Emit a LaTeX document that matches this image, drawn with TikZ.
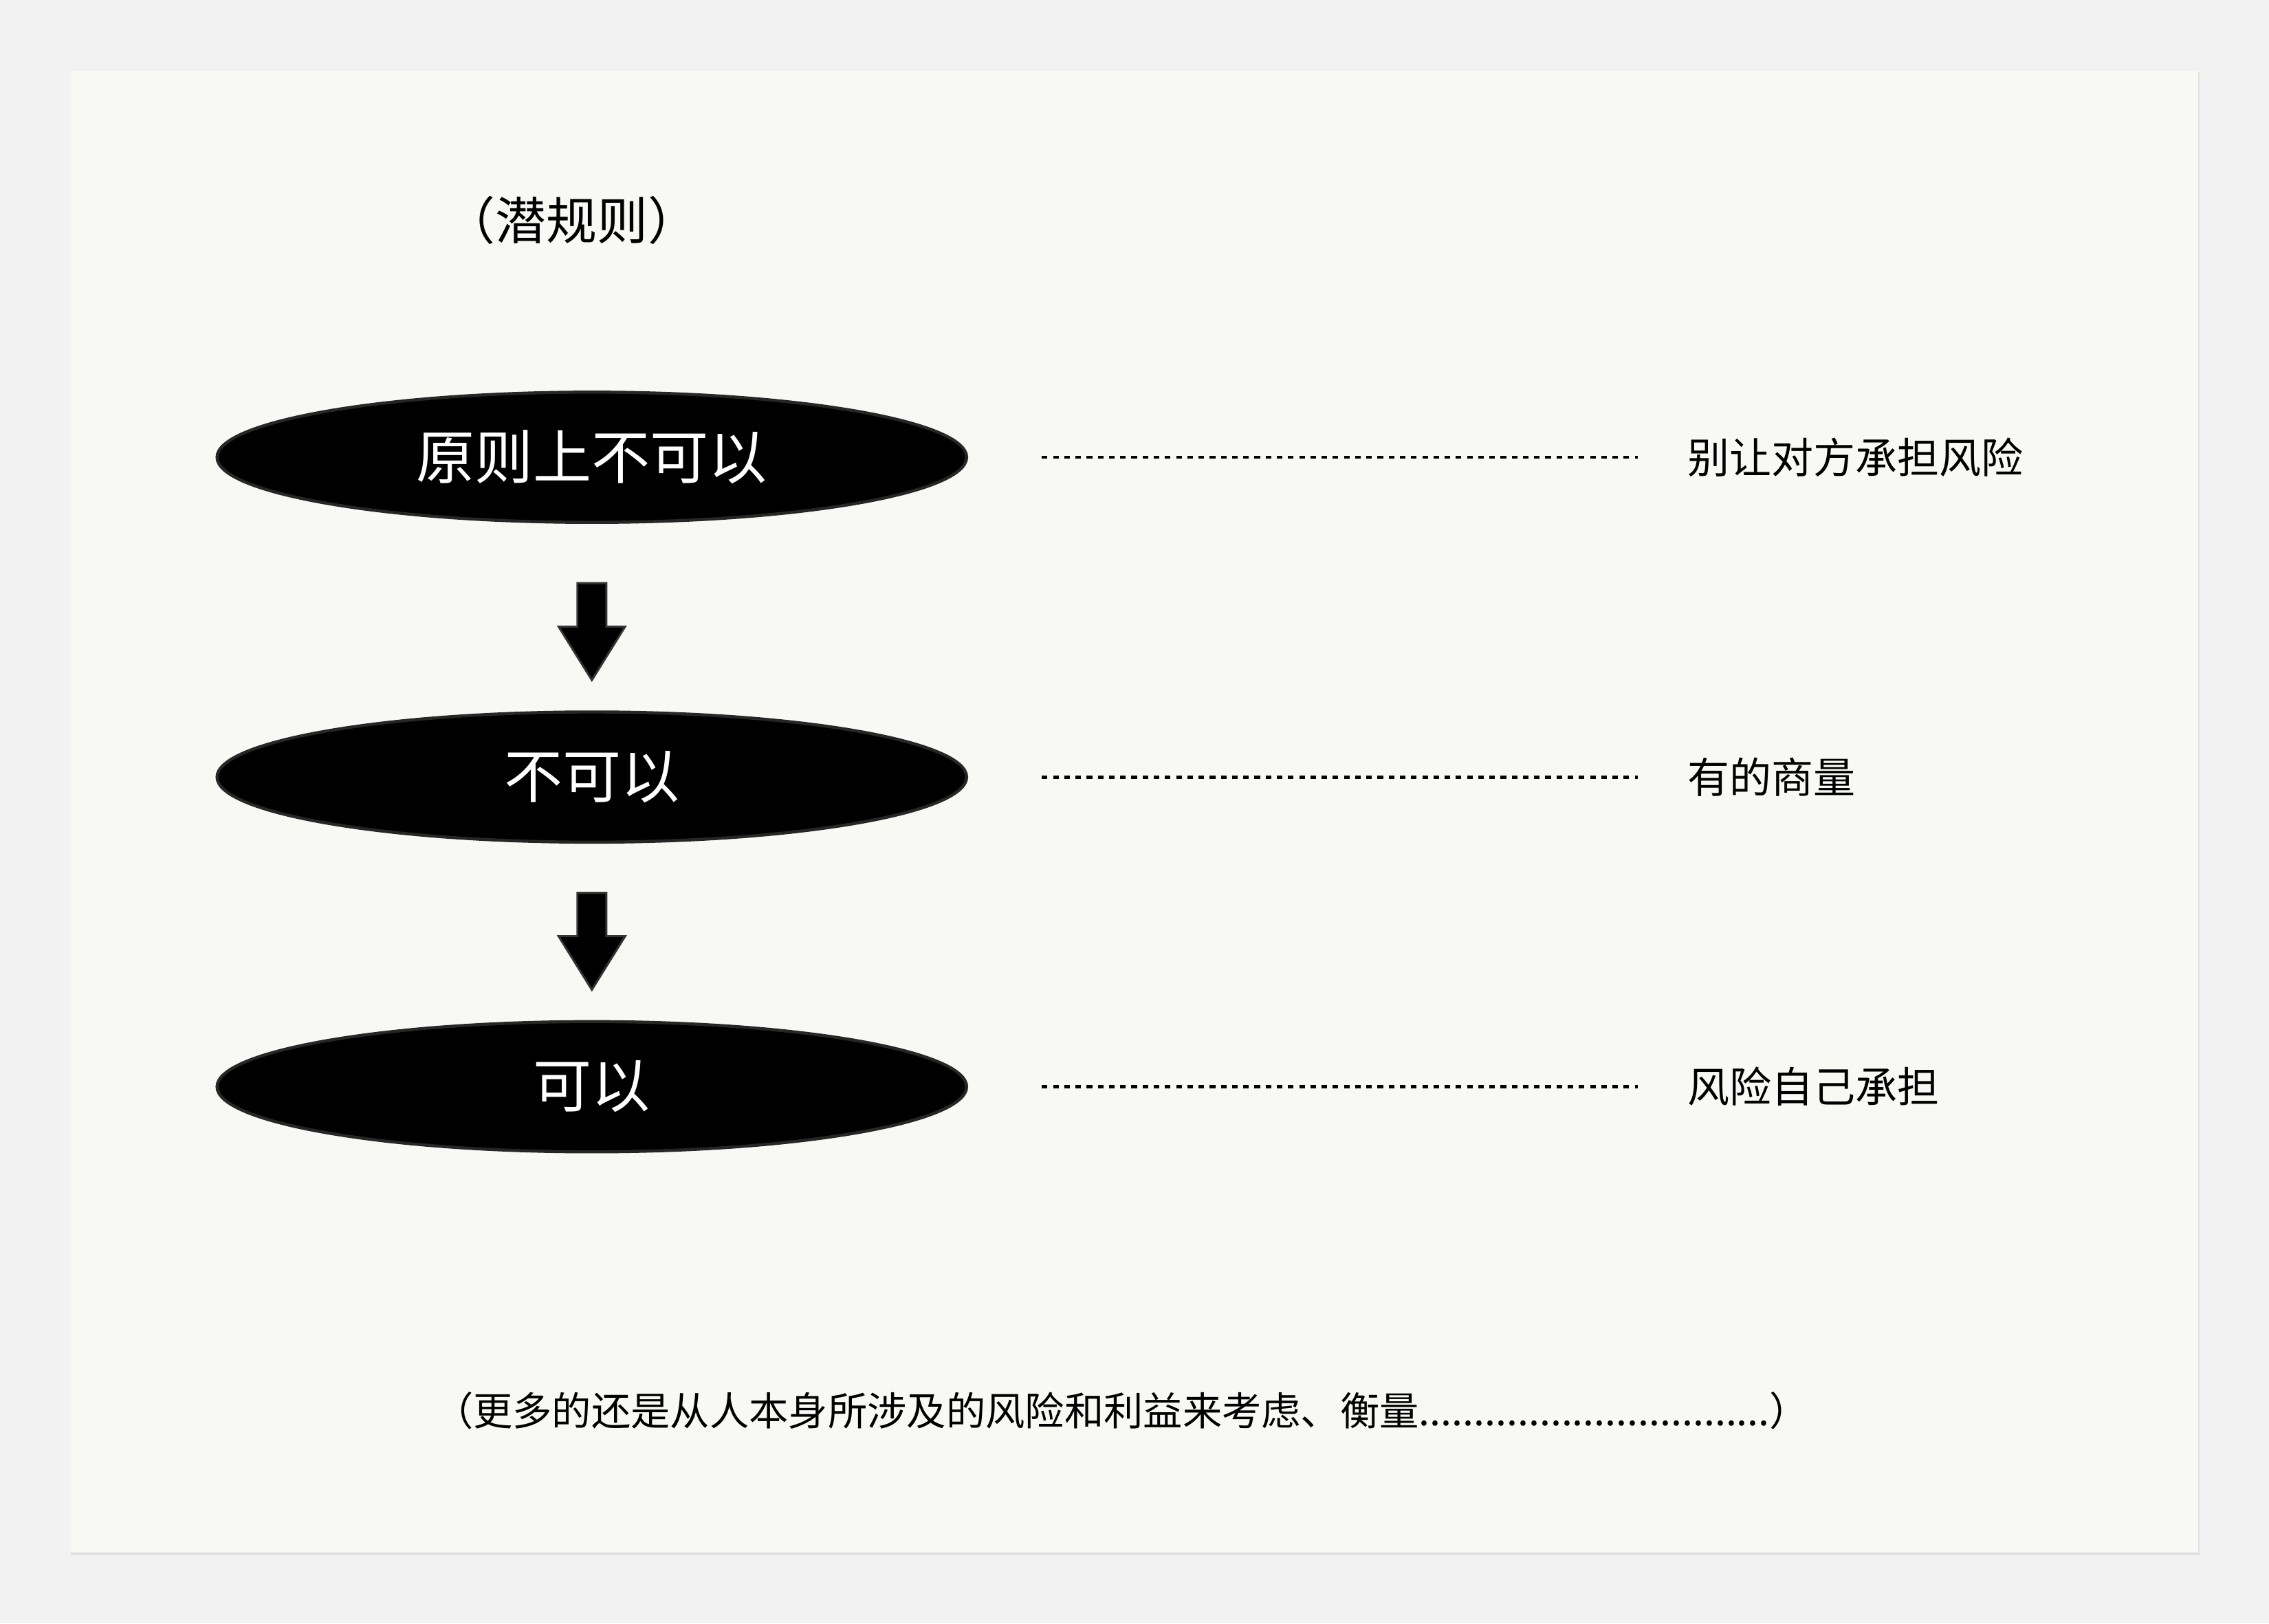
\documentclass[tikz,border=0pt]{standalone}
\usepackage{fontspec}
\newfontfamily\cjk{Noto Sans CJK SC}
\definecolor{outerbg}{HTML}{F2F2F2}
\definecolor{panel}{HTML}{F8F8F4}
\begin{document}
\begin{tikzpicture}[x=0.02cm,y=-0.02cm,
  oval/.style={ellipse,fill=black,draw=black!85,line width=1.2pt,minimum width=518*0.02cm,minimum height=90*0.02cm,text=white,font=\cjk\fontsize{23}{23}\selectfont},
  side/.style={anchor=west,font=\cjk\fontsize{16.5}{18}\selectfont},
  dots/.style={dotted,line width=1.3pt,dash pattern=on 2.2pt off 2.2pt},
  blockarrow/.style={fill=black,draw=black!80,line width=0.8pt}]
\usetikzlibrary{shapes.geometric}
\fill[outerbg] (0,0) rectangle (1568,1122);
\useasboundingbox (0,0) rectangle (1568,1122);
\fill[black!12] (49,50) rectangle (1520,1075);
\fill[panel] (49,49) rectangle (1519,1073);
\node[font=\cjk\fontsize{20}{22}\selectfont] (title) at (395,152) {（潜规则）};
\node[oval] (e1) at (409,316) {原则上不可以};
\node[oval] (e2) at (409,537) {不可以};
\node[oval] (e3) at (409,751) {可以};
\foreach \a/\b in {403/470,617/684}{
  \draw[blockarrow] (399,\a) -- (419,\a) -- (419,\a+30) -- (432,\a+30) -- (409,\b) -- (386,\a+30) -- (399,\a+30) -- cycle;}
\node[side] (t1) at (1160,316) {别让对方承担风险};
\node[side] (t2) at (1160,537) {有的商量};
\node[side] (t3) at (1160,751) {风险自己承担};
\coordinate (d1) at (720,316); \coordinate (d2) at (720,537); \coordinate (d3) at (720,751);
\draw[dots] (d1) -- (1132,316);
\draw[dots] (d2) -- (1132,537);
\draw[dots] (d3) -- (1132,751);
\node[font=\cjk\fontsize{15.5}{18}\selectfont] (foot) at (775,975) {（更多的还是从人本身所涉及的风险和利益来考虑、衡量................................）};
\end{tikzpicture}
\end{document}
